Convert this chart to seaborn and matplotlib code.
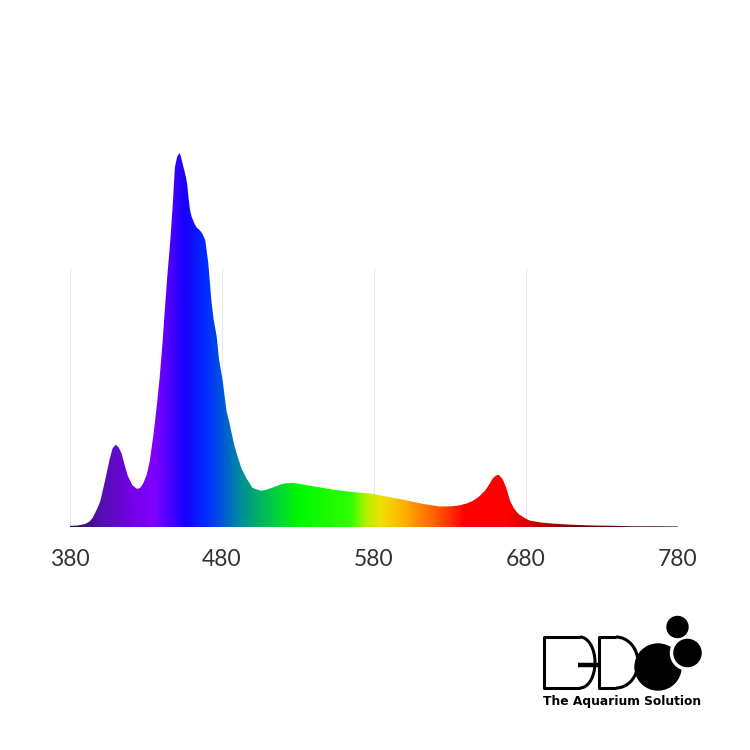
import numpy as np
import pandas as pd
import matplotlib
matplotlib.use("Agg")
import matplotlib.pyplot as plt
import seaborn as sns
from matplotlib.colors import LinearSegmentedColormap
from matplotlib.patches import Circle, Arc

# spectrum (relative intensity, peak = 1)
wavelength = [380, 385, 390, 393, 395, 398, 400, 403, 406, 408, 410, 412, 414, 416, 418,
              421, 424, 426, 428, 430.5, 432.5, 435, 437, 439, 441, 442.5, 444, 446, 447.5,
              449, 450.5, 452, 453, 454, 456, 457, 458, 459, 460, 461, 462, 463.5, 465, 467,
              469, 471, 473, 474.5, 476.5, 478, 480.5, 483, 485, 488, 490.5, 493, 496, 500,
              503, 506, 509.6, 513, 518, 522, 527, 533, 538, 546, 553, 565, 579, 590, 597,
              605, 612, 618, 623, 630, 636.5, 641, 645, 649, 653, 656, 658, 660, 661.6, 663,
              665, 667, 669.5, 672, 675, 679, 682.6, 690, 697.7, 710, 724, 740, 750, 765, 780]
intensity = [0.003, 0.004, 0.008, 0.015, 0.025, 0.05, 0.07, 0.123, 0.18, 0.21, 0.22, 0.213,
             0.196, 0.165, 0.137, 0.112, 0.102, 0.104, 0.115, 0.14, 0.177, 0.25, 0.32, 0.40,
             0.50, 0.587, 0.67, 0.767, 0.855, 0.962, 0.99, 1.0, 0.99, 0.973, 0.94, 0.92, 0.88,
             0.847, 0.83, 0.82, 0.81, 0.80, 0.795, 0.785, 0.767, 0.705, 0.606, 0.555, 0.51,
             0.45, 0.39, 0.31, 0.276, 0.22, 0.185, 0.155, 0.131, 0.105, 0.10, 0.097, 0.10,
             0.105, 0.113, 0.117, 0.118, 0.114, 0.11, 0.105, 0.10, 0.094, 0.089, 0.08, 0.075,
             0.068, 0.062, 0.058, 0.055, 0.055, 0.058, 0.063, 0.07, 0.081, 0.097, 0.115, 0.129,
             0.137, 0.14, 0.136, 0.125, 0.105, 0.07, 0.05, 0.035, 0.024, 0.017, 0.012, 0.009,
             0.006, 0.004, 0.003, 0.002, 0.002, 0.0015]

tick_values = [380, 480, 580, 680, 780]
grid_values = [380, 480, 580, 680, 780]

# colour of the light at each wavelength
color_stops = [(380, "#2a1050"), (400, "#5210b0"), (420, "#7400e8"), (435, "#8000ff"),
               (455, "#1800ff"), (470, "#0030ff"), (480, "#0058d8"), (490, "#0085a8"),
               (500, "#00a574"), (515, "#00d040"), (530, "#00f800"), (565, "#30ff00"),
               (575, "#b8f000"), (585, "#f0e000"), (600, "#ffb000"), (620, "#ff6000"),
               (640, "#ff0000"), (668, "#ff0000"), (690, "#c00000"), (720, "#700000"),
               (780, "#301010")]

df = pd.DataFrame({"wavelength": wavelength, "intensity": intensity})

sns.set_theme(style="white")

fig = plt.figure(figsize=(7.5, 7.5), dpi=100)
ax = fig.add_axes([70 / 750, 1 - 527 / 750, 608 / 750, 387 / 750])

ymax = 387 / 374
ax.set_xlim(380, 780)
ax.set_ylim(0, ymax)

# faint vertical guides, behind the spectrum
ax.vlines(grid_values, 0, 259 / 374, color="#e8e8e8", lw=0.8, zorder=0)

# fill shape, then paint the rainbow gradient clipped to it
poly = ax.fill_between(df["wavelength"], 0, df["intensity"], color="none", lw=0)
lo, hi = color_stops[0][0], color_stops[-1][0]
cmap = LinearSegmentedColormap.from_list(
    "spec", [((w - lo) / (hi - lo), c) for w, c in color_stops])
grad = np.linspace(lo, hi, 800)[None, :]
img = ax.imshow(grad, extent=[lo, hi, 0, ymax], aspect="auto", cmap=cmap,
                vmin=lo, vmax=hi, origin="lower", zorder=1)
path = poly.get_paths()[0]
img.set_clip_path(path, transform=ax.transData)

ax.set_xticks(tick_values)
ax.set_xticklabels([str(t) for t in tick_values], fontsize=16.5, color="#333333",
                   family=["Lato", "DejaVu Sans"], fontweight="normal")
ax.tick_params(axis="x", length=0, pad=16)
ax.set_yticks([])
ax.set_xlabel("")
ax.set_ylabel("")
sns.despine(ax=ax, left=True, bottom=True)

# logo, drawn in pixel coordinates
lg = fig.add_axes([540 / 750, 1 - 715 / 750, 170 / 750, 110 / 750])
lg.set_xlim(540, 710)
lg.set_ylim(715, 605)
lg.set_aspect("equal")
lg.axis("off")
lw = 2.2
# first D
lg.plot([580, 544, 544, 580], [637, 637, 688, 688], color="black", lw=lw, solid_capstyle="butt")
lg.add_patch(Arc((580, 662.5), 30, 51, theta1=-90, theta2=90, color="black", lw=lw))
# bar
lg.plot([578, 600], [665, 665], color="black", lw=3.2, solid_capstyle="butt")
# second D
lg.plot([616, 599, 599, 616], [637, 637, 688, 688], color="black", lw=lw, solid_capstyle="butt")
lg.add_patch(Arc((616, 662.5), 44, 51, theta1=-90, theta2=90, color="black", lw=lw))
# circles
lg.add_patch(Circle((658, 667), 23, color="black", zorder=2))
lg.add_patch(Circle((687.5, 653), 16, facecolor="black", edgecolor="white", lw=2.5, zorder=3))
lg.add_patch(Circle((677.5, 627), 10.5, color="black", zorder=3))
lg.text(622.5, 702, "The Aquarium Solution", ha="center", va="center",
        fontsize=8.8, fontweight="bold", color="black")

fig.savefig("out.png", dpi=100, facecolor="white")
